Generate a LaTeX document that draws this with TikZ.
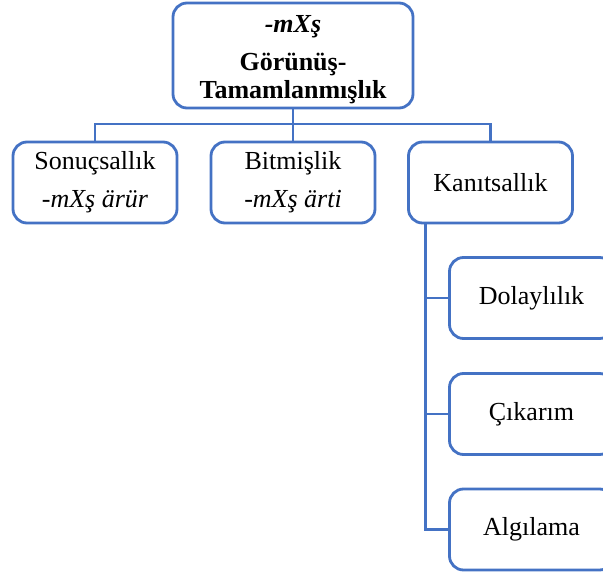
\documentclass[tikz,border=0pt]{standalone}
\usepackage{fontspec}
\setmainfont{Liberation Serif}
\definecolor{boxblue}{RGB}{68,114,196}
\tikzset{
  box/.style={draw=boxblue, line width=2.8pt, rounded corners=14pt, fill=white,
    minimum width=164pt, minimum height=81pt, inner sep=0pt, align=center,
    font=\fontsize{26}{38}\selectfont},
  conn/.style={draw=boxblue, line width=2.8pt}
}
\begin{document}
\begin{tikzpicture}[x=1pt,y=-1pt]
\useasboundingbox (0,0) rectangle (603,573);
\node[box, minimum width=240pt, minimum height=105pt] (top) at (293,55.5) {};
\node[align=center, inner sep=0pt, font=\fontsize{26}{28}\selectfont\bfseries] (toptext) at (293,60)
  {\textit{-mXş}\\[10pt]Görünüş-\\Tamamlanmışlık};
\node[box] (son) at (95,182.5) {Sonuçsallık\\\textit{-mXş ärür}};
\node[box] (bit) at (293,182.5) {Bitmişlik\\\textit{-mXş ärti}};
\node[box] (kan) at (490.5,182.5) {Kanıtsallık};
\node[box] (dol) at (531.5,298) {Dolaylılık};
\node[box] (cik) at (531.5,414) {Çıkarım};
\node[box] (alg) at (531.5,529.5) {Algılama};
\coordinate (bus) at (293,124);
\coordinate (kv) at ([xshift=-65pt]kan.south);
\draw[conn] (top.south) -- (bus);
\draw[conn] (bus) -| (son.north);
\draw[conn] (bus) -- (bit.north);
\draw[conn] (bus) -| (kan.north);
\draw[conn] (kv) |- (dol.west);
\draw[conn] (kv) |- (cik.west);
\draw[conn] (kv) |- (alg.west);
\end{tikzpicture}
\end{document}
